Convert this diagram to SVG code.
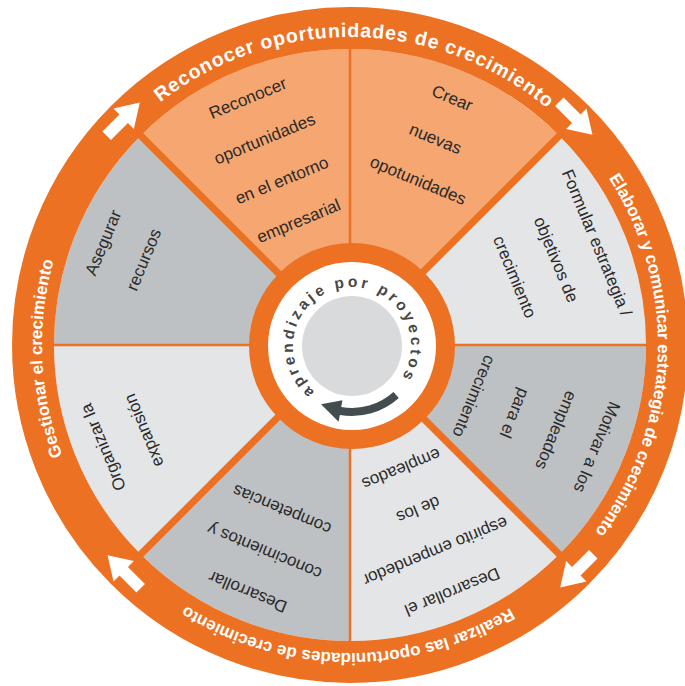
<svg xmlns="http://www.w3.org/2000/svg" width="685" height="686" viewBox="0 0 685 686">
<defs>
<style>
.lo{fill:#F5A671}
.lg{fill:#E4E5E6}
.dg{fill:#BEC1C3}
.thin{stroke:#ED7123;stroke-width:2.5}
.thick{stroke:#ED7123;stroke-width:7}
.seg{font-family:"Liberation Sans",Arial,sans-serif;font-size:17px;fill:#2A2A2A;text-anchor:middle}
.ring{font-family:"Liberation Sans",Arial,sans-serif;font-weight:bold;fill:#FFFFFF;text-anchor:middle}
.arr{fill:#FFFFFF}
.inner{font-family:"Liberation Sans",Arial,sans-serif;font-weight:bold;font-size:15.5px;fill:#474747;letter-spacing:3.2px}
</style>
<path id="pA" d="M350,37 A308,308 0 1 1 350,653 A308,308 0 1 1 350,37"/>
<path id="pB" d="M350,653 A308,308 0 1 1 350,37 A308,308 0 1 1 350,653"/>
<path id="pI" d="M352,405 A59,59 0 1 1 352,287 A59,59 0 1 1 352,405"/>
</defs>
<rect width="685" height="686" fill="#FFFFFF"/>

<g id="sectors">
<path id="s-nnw" class="lo" d="M350,345 L140.7,135.7 A296,296 0 0 1 350,49 Z"/>
<path id="s-nne" class="lo" d="M350,345 L350,49 A296,296 0 0 1 559.3,135.7 Z"/>
<path id="s-ene" class="lg" d="M350,345 L559.3,135.7 A296,296 0 0 1 646,345 Z"/>
<path id="s-ese" class="dg" d="M350,345 L646,345 A296,296 0 0 1 559.3,554.3 Z"/>
<path id="s-sse" class="lg" d="M350,345 L559.3,554.3 A296,296 0 0 1 350,641 Z"/>
<path id="s-ssw" class="dg" d="M350,345 L350,641 A296,296 0 0 1 140.7,554.3 Z"/>
<path id="s-wsw" class="lg" d="M350,345 L140.7,554.3 A296,296 0 0 1 54,345 Z"/>
<path id="s-wnw" class="dg" d="M350,345 L54,345 A296,296 0 0 1 140.7,135.7 Z"/>
</g>

<g id="dividers">
<line class="thin" x1="350" y1="345" x2="350" y2="45"/>
<line class="thin" x1="350" y1="345" x2="650" y2="345"/>
<line class="thin" x1="350" y1="345" x2="350" y2="645"/>
<line class="thin" x1="350" y1="345" x2="50" y2="345"/>
<line class="thick" x1="138" y1="133" x2="562" y2="557"/>
<line class="thick" x1="562" y1="133" x2="138" y2="557"/>
</g>

<g id="outer-ring">
<circle cx="350" cy="345" r="317" fill="none" stroke="#ED7123" stroke-width="42"/>
<text class="ring" font-size="19.5" letter-spacing="0.9"><textPath href="#pB" startOffset="972.4">Reconocer oportunidades de crecimiento</textPath></text>
<text class="ring" font-size="17" letter-spacing="-0.15"><textPath href="#pA" startOffset="495.6">Elaborar y comunicar estrategia de crecimiento</textPath></text>
<text class="ring" font-size="17"><textPath href="#pA" startOffset="969.5">Realizar las oportunidades de crecimiento</textPath></text>
<text class="ring" font-size="17"><textPath href="#pA" startOffset="1436.9">Gestionar el crecimiento</textPath></text>
</g>

<g id="connectors">
<polygon class="arr" points="-20,-5 0,-5 0,-12 19,0 0,12 0,5 -20,5" transform="translate(123.7,118.7) rotate(315) scale(1.2)"/>
<polygon class="arr" points="-20,-5 0,-5 0,-12 19,0 0,12 0,5 -20,5" transform="translate(576.3,118.7) rotate(45) scale(1.2)"/>
<polygon class="arr" points="-20,-5 0,-5 0,-12 19,0 0,12 0,5 -20,5" transform="translate(576.3,571.3) rotate(135) scale(1.2)"/>
<polygon class="arr" points="-20,-5 0,-5 0,-12 19,0 0,12 0,5 -20,5" transform="translate(123.7,571.3) rotate(225) scale(1.2)"/>
</g>

<g id="node-reconocer" transform="rotate(337.5 350 345)">
<text class="seg" x="350" y="83.5">Reconocer</text>
<text class="seg" x="350" y="127.5">oportunidades</text>
<text class="seg" x="350" y="172.5">en el entorno</text>
<text class="seg" x="350" y="216.5">empresarial</text>
</g>
<g id="node-crear" transform="rotate(22.5 350 345)">
<text class="seg" x="350" y="83.5">Crear</text>
<text class="seg" x="350" y="127.5">nuevas</text>
<text class="seg" x="350" y="172.5">opotunidades</text>
</g>
<g id="node-formular" transform="rotate(67.5 350 345)">
<text class="seg" x="350" y="83.5">Formular estrategia /</text>
<text class="seg" x="350" y="127.5">objetivos de</text>
<text class="seg" x="350" y="172.5">crecimiento</text>
</g>
<g id="node-motivar" transform="rotate(112.5 350 345)">
<text class="seg" x="350" y="83.5">Motivar a los</text>
<text class="seg" x="350" y="127.5">empleados</text>
<text class="seg" x="350" y="172.5">para el</text>
<text class="seg" x="350" y="216.5">crecimiento</text>
</g>
<g id="node-espiritu" transform="rotate(157.5 350 345)">
<text class="seg" x="350" y="83.5">Desarrollar el</text>
<text class="seg" x="350" y="127.5">espirito empendedor</text>
<text class="seg" x="350" y="172.5">de los</text>
<text class="seg" x="350" y="216.5">empleados</text>
</g>
<g id="node-conocimientos" transform="rotate(202.5 350 345)">
<text class="seg" x="350" y="83.5">Desarrollar</text>
<text class="seg" x="350" y="127.5">conocimientos y</text>
<text class="seg" x="350" y="172.5">competencias</text>
</g>
<g id="node-organizar" transform="rotate(247.5 350 345)">
<text class="seg" x="350" y="83.5">Organizar la</text>
<text class="seg" x="350" y="127.5">expansión</text>
</g>
<g id="node-asegurar" transform="rotate(292.5 350 345)">
<text class="seg" x="350" y="83.5">Asegurar</text>
<text class="seg" x="350" y="127.5">recursos</text>
</g>

<g id="node-center">
<circle cx="352" cy="346" r="103" fill="#ED7123"/>
<circle cx="352" cy="346" r="84" fill="#FFFFFF"/>
<circle cx="352" cy="346" r="50" fill="#D9DADC"/>
<text class="inner"><textPath href="#pI" startOffset="40.2">aprendizaje por proyectos</textPath></text>
<path fill="#434C4E" d="M398.84,398.02 A70,70 0 0 1 339.84,414.94 L338.63,421.83 L321.01,404.27 L342.45,400.16 L341.23,407.06 A62,62 0 0 0 393.48,392.07 Z"/>
</g>
</svg>
